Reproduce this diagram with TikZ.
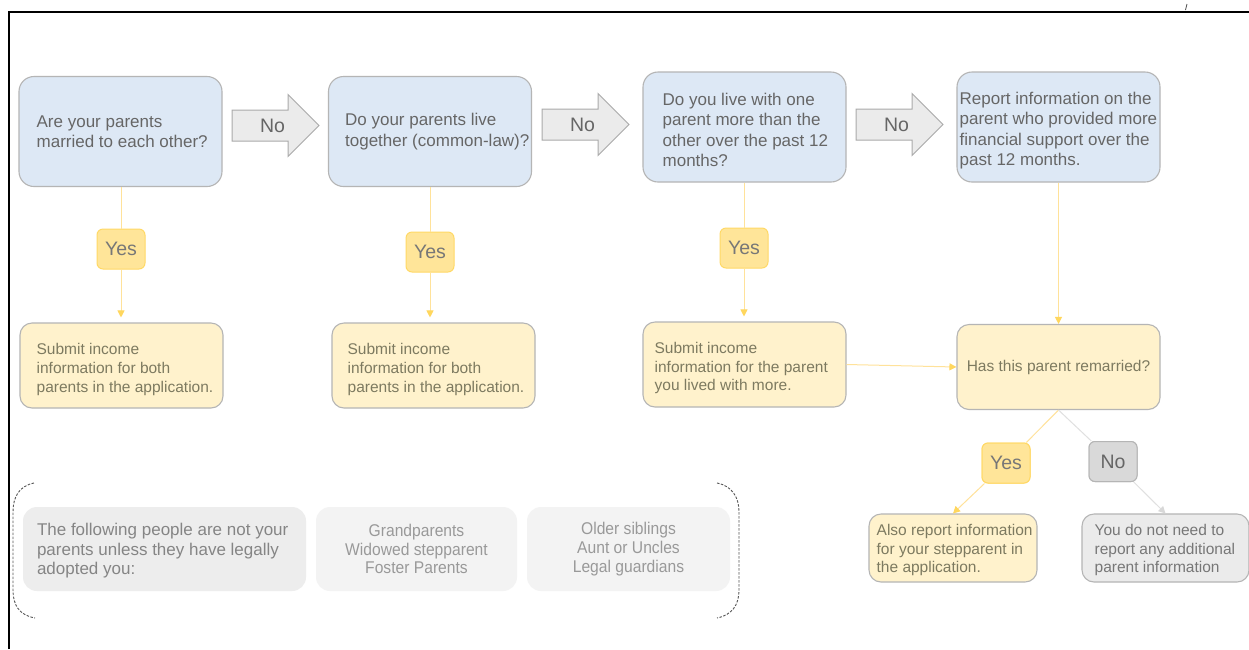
\documentclass[tikz,border=0pt]{standalone}
\usepackage{fontspec}
\setmainfont{Liberation Sans}
\newfontfamily\narrowfont[FakeStretch=0.92]{Liberation Sans}
\usetikzlibrary{arrows.meta}
\definecolor{qblue}{HTML}{DDE8F5}
\definecolor{boxborder}{HTML}{B5B5B5}
\definecolor{qtextc}{HTML}{666666}
\definecolor{ryellow}{HTML}{FFF2CC}
\definecolor{rtextc}{HTML}{7D7A60}
\definecolor{yesfill}{HTML}{FFE599}
\definecolor{yesborder}{HTML}{FFD966}
\definecolor{labeltext}{HTML}{777777}
\definecolor{nofill}{HTML}{D9D9D9}
\definecolor{arrowfill}{HTML}{EBEBEB}
\definecolor{arrowborder}{HTML}{AAAAAA}
\definecolor{connyellow}{HTML}{FFE29A}
\definecolor{tipyellow}{HTML}{FFD75E}
\definecolor{conngray}{HTML}{E0E0E0}
\definecolor{tipgray}{HTML}{D8D8D8}
\definecolor{grayfill}{HTML}{EBEBEB}
\definecolor{gfillA}{HTML}{EDEDED}
\definecolor{gfillB}{HTML}{F3F3F3}
\definecolor{gtextA}{HTML}{858585}
\definecolor{gtextB}{HTML}{999999}
\definecolor{bracketc}{HTML}{555555}
\newcommand\qfont{\fontsize{17}{20.3}\selectfont}
\newcommand\rfont{\fontsize{15.5}{18.6}\selectfont}
\newcommand\lfont{\fontsize{19.5}{22}\selectfont}
\newcommand\gfontA{\fontsize{17}{19.5}\selectfont}
\newcommand\gfontB{\narrowfont\fontsize{17}{18.6}\selectfont}
\begin{document}
\begin{tikzpicture}[x=1pt,y=-1pt,
  qbox/.style={draw=boxborder, line width=1.1, fill=qblue, rounded corners=15, minimum width=203, minimum height=110, inner sep=0},
  rbox/.style={draw=boxborder, line width=1.1, fill=ryellow, rounded corners=12, minimum width=203, minimum height=85, inner sep=0},
  gbox/.style={fill=gfillB, rounded corners=14, minimum width=202, minimum height=84, inner sep=0, align=center, text=gtextB, font=\gfontB},
  qtext/.style={align=left, inner sep=0, text=qtextc, font=\qfont},
  rtext/.style={align=left, inner sep=0, text=rtextc, font=\rfont},
  yeslab/.style={draw=yesborder, line width=1, fill=yesfill, rounded corners=6, minimum width=48, minimum height=40, inner sep=0, text=labeltext, font=\lfont},
  nolab/.style={draw=boxborder, line width=1, fill=nofill, rounded corners=6, minimum width=48, minimum height=40, inner sep=0, text=qtextc, font=\lfont},
  arrowbox/.style={draw=arrowborder, line width=1, fill=arrowfill},
  arrowtext/.style={inner sep=0, text=qtextc, font=\lfont},
  conn/.style={draw=connyellow, line width=1},
  yarr/.style={conn, -{Triangle[width=7pt,length=7pt,color=tipyellow]}},
  gconn/.style={draw=conngray, line width=1},
  garr/.style={gconn, -{Triangle[width=7pt,length=7pt,color=tipgray]}},
  bracket/.style={draw=bracketc, line width=0.9, dash pattern=on 2.5pt off 1.5pt}
]
\useasboundingbox (0,0) rectangle (1249,649);
\fill[white] (0,0) rectangle (1249,649);
% frame
\draw[line width=1.8] (9,649) -- (9,12) -- (1249,12);
\draw[line width=0.8, draw=black!70] (1185.5,10) -- (1187,4);

% question boxes
\node[qbox] (q1) at (120.5,131.5) {};
\node[qtext, anchor=west] (q1t) at ([xshift=18]q1.west) {Are your parents\\married to each other?};
\node[qbox] (q2) at (430,131.5) {};
\node[qtext, anchor=west] (q2t) at ([xshift=17]q2.west) {Do your parents live\\together (common-law)?};
\node[qbox] (q3) at (744.5,127) {};
\node[qtext, anchor=west] (q3t) at ([xshift=20,yshift=-3]q3.west) {Do you live with one\\parent more than the\\other over the past 12\\months?};
\node[qbox] (q4) at (1058.5,127) {};
\node[qtext, anchor=west] (q4t) at ([xshift=3,yshift=-3.5]q4.west) {Report information on the\\parent who provided more\\financial support over the\\past 12 months.};

% block arrows
\begin{scope}[shift={(232,125.5)}]
\draw[arrowbox] (0,-15.5) -- (56,-15.5) -- (56,-31) -- (87,0) -- (56,31) -- (56,15.5) -- (0,15.5) -- cycle;
\node[arrowtext] (no1) at (40.5,0) {No};
\end{scope}
\begin{scope}[shift={(542,124.5)}]
\draw[arrowbox] (0,-15.5) -- (56,-15.5) -- (56,-31) -- (87,0) -- (56,31) -- (56,15.5) -- (0,15.5) -- cycle;
\node[arrowtext] (no2) at (40.5,0) {No};
\end{scope}
\begin{scope}[shift={(856,124.5)}]
\draw[arrowbox] (0,-15.5) -- (56,-15.5) -- (56,-31) -- (87,0) -- (56,31) -- (56,15.5) -- (0,15.5) -- cycle;
\node[arrowtext] (no3) at (40.5,0) {No};
\end{scope}

% result boxes
\node[rbox] (r1) at (121.5,365.5) {};
\node[rtext, anchor=west] (r1t) at ([xshift=17,yshift=-4]r1.west) {Submit income\\information for both\\parents in the application.};
\node[rbox] (r2) at (433.5,365.5) {};
\node[rtext, anchor=west] (r2t) at ([xshift=16,yshift=-4]r2.west) {Submit income\\information for both\\parents in the application.};
\node[rbox] (r3) at (744.5,364.5) {};
\node[rtext, anchor=west] (r3t) at ([xshift=12,yshift=-3.5]r3.west) {Submit income\\information for the parent\\you lived with more.};
\node[rbox, text=rtextc, font=\rfont] (r4) at (1058.5,367) {Has this parent remarried?};
\node[rbox, minimum width=168, minimum height=68] (r5) at (953,548) {};
\node[rtext, anchor=west] (r5t) at ([xshift=8,yshift=-2]r5.west) {Also report information\\for your stepparent in\\the application.};
\node[rbox, fill=grayfill, minimum width=167, minimum height=68] (r6) at (1165.5,548) {};
\node[rtext, text=labeltext, anchor=west] (r6t) at ([xshift=13,yshift=-2]r6.west) {You do not need to\\report any additional\\parent information};

% yes / no labels
\node[yeslab] (y1) at (121,249) {Yes};
\node[yeslab] (y2) at (430,252) {Yes};
\node[yeslab] (y3) at (744,248) {Yes};
\node[yeslab] (y4) at (1006,463) {Yes};
\node[nolab] (n4) at (1113,461.5) {No};

% connectors
\draw[conn] (q1.south -| y1) -- (y1.north);
\draw[yarr, shorten >=5pt] (y1.south) -- (y1.south |- r1.north);
\draw[conn] (q2.south -| y2) -- (y2.north);
\draw[yarr, shorten >=5pt] (y2.south) -- (y2.south |- r2.north);
\draw[conn] (q3.south -| y3) -- (y3.north);
\draw[yarr, shorten >=5pt] (y3.south) -- (y3.south |- r3.north);
\draw[yarr] (q4.south) -- (r4.north);
\draw[yarr] (r3.east) -- (r4.west);
\draw[conn] (r4.south) -- (y4);
\draw[yarr] (y4) -- (r5.north);
\draw[gconn] (r4.south) -- (n4);
\draw[garr] (n4) -- (r6.north);
% redraw labels over lines
\node[yeslab] at (y4) {Yes};
\node[nolab] at (n4) {No};

% bottom note group
\node[gbox, fill=gfillA, minimum width=283] (g1) at (164.5,549) {};
\node[align=left, inner sep=0, text=gtextA, font=\gfontA, anchor=west] (g1t) at ([xshift=14,yshift=-2]g1.west) {The following people are not your\\parents unless they have legally\\adopted you:};
\node[gbox, minimum width=201] (g2) at (416.5,549) {Grandparents\\Widowed stepparent\\Foster Parents};
\node[gbox, minimum width=203] (g3) at (628.5,549) {Older siblings\\Aunt or Uncles\\Legal guardians};

\draw[bracket] (34,483) .. controls (19,486) and (13,497) .. (13,512) -- (13,590) .. controls (13,605) and (19,615) .. (35,618);
\draw[bracket] (717,483) .. controls (732,486) and (739,497) .. (739,512) -- (739,590) .. controls (739,605) and (732,615) .. (717,618);
\end{tikzpicture}
\end{document}
